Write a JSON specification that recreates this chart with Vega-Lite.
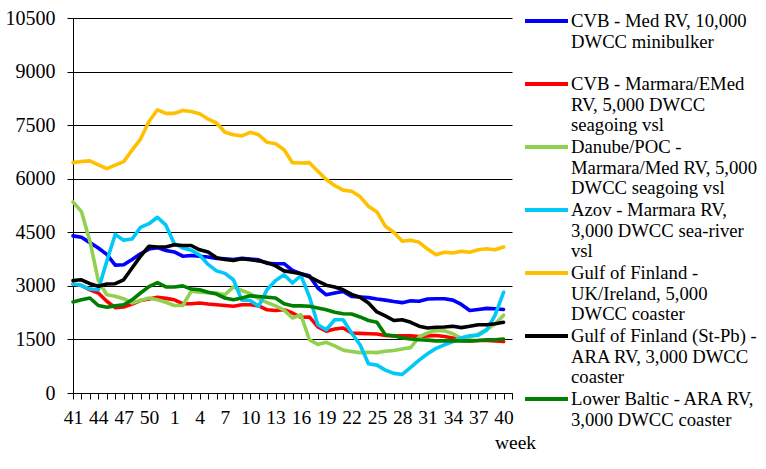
{
  "$schema": "https://vega.github.io/schema/vega-lite/v6.json",
  "autosize": {"type": "none"},
  "padding": {"left": 73, "top": 18, "right": 254, "bottom": 76},
  "width": 439,
  "height": 375,
  "background": "white",
  "config": {"view": {"stroke": null}, "font": "Liberation Serif"},
  "datasets": {
    "rates": [
      {"s":"CVB - Med RV, 10,000\nDWCC minibulker","w":41,"v":4400},{"s":"CVB - Med RV, 10,000\nDWCC minibulker","w":42,"v":4360},{"s":"CVB - Med RV, 10,000\nDWCC minibulker","w":43,"v":4210},{"s":"CVB - Med RV, 10,000\nDWCC minibulker","w":44,"v":4060},{"s":"CVB - Med RV, 10,000\nDWCC minibulker","w":45,"v":3880},{"s":"CVB - Med RV, 10,000\nDWCC minibulker","w":46,"v":3580},{"s":"CVB - Med RV, 10,000\nDWCC minibulker","w":47,"v":3590},{"s":"CVB - Med RV, 10,000\nDWCC minibulker","w":48,"v":3740},{"s":"CVB - Med RV, 10,000\nDWCC minibulker","w":49,"v":3900},{"s":"CVB - Med RV, 10,000\nDWCC minibulker","w":50,"v":4030},{"s":"CVB - Med RV, 10,000\nDWCC minibulker","w":51,"v":4070},{"s":"CVB - Med RV, 10,000\nDWCC minibulker","w":52,"v":3990},{"s":"CVB - Med RV, 10,000\nDWCC minibulker","w":1,"v":3950},{"s":"CVB - Med RV, 10,000\nDWCC minibulker","w":2,"v":3830},{"s":"CVB - Med RV, 10,000\nDWCC minibulker","w":3,"v":3850},{"s":"CVB - Med RV, 10,000\nDWCC minibulker","w":4,"v":3830},{"s":"CVB - Med RV, 10,000\nDWCC minibulker","w":5,"v":3810},{"s":"CVB - Med RV, 10,000\nDWCC minibulker","w":6,"v":3770},{"s":"CVB - Med RV, 10,000\nDWCC minibulker","w":7,"v":3760},{"s":"CVB - Med RV, 10,000\nDWCC minibulker","w":8,"v":3740},{"s":"CVB - Med RV, 10,000\nDWCC minibulker","w":9,"v":3770},{"s":"CVB - Med RV, 10,000\nDWCC minibulker","w":10,"v":3750},{"s":"CVB - Med RV, 10,000\nDWCC minibulker","w":11,"v":3730},{"s":"CVB - Med RV, 10,000\nDWCC minibulker","w":12,"v":3630},{"s":"CVB - Med RV, 10,000\nDWCC minibulker","w":13,"v":3620},{"s":"CVB - Med RV, 10,000\nDWCC minibulker","w":14,"v":3620},{"s":"CVB - Med RV, 10,000\nDWCC minibulker","w":15,"v":3430},{"s":"CVB - Med RV, 10,000\nDWCC minibulker","w":16,"v":3340},{"s":"CVB - Med RV, 10,000\nDWCC minibulker","w":17,"v":3280},{"s":"CVB - Med RV, 10,000\nDWCC minibulker","w":18,"v":2940},{"s":"CVB - Med RV, 10,000\nDWCC minibulker","w":19,"v":2750},{"s":"CVB - Med RV, 10,000\nDWCC minibulker","w":20,"v":2800},{"s":"CVB - Med RV, 10,000\nDWCC minibulker","w":21,"v":2840},{"s":"CVB - Med RV, 10,000\nDWCC minibulker","w":22,"v":2700},{"s":"CVB - Med RV, 10,000\nDWCC minibulker","w":23,"v":2690},{"s":"CVB - Med RV, 10,000\nDWCC minibulker","w":24,"v":2670},{"s":"CVB - Med RV, 10,000\nDWCC minibulker","w":25,"v":2630},{"s":"CVB - Med RV, 10,000\nDWCC minibulker","w":26,"v":2600},{"s":"CVB - Med RV, 10,000\nDWCC minibulker","w":27,"v":2560},{"s":"CVB - Med RV, 10,000\nDWCC minibulker","w":28,"v":2530},{"s":"CVB - Med RV, 10,000\nDWCC minibulker","w":29,"v":2580},{"s":"CVB - Med RV, 10,000\nDWCC minibulker","w":30,"v":2570},{"s":"CVB - Med RV, 10,000\nDWCC minibulker","w":31,"v":2630},{"s":"CVB - Med RV, 10,000\nDWCC minibulker","w":32,"v":2640},{"s":"CVB - Med RV, 10,000\nDWCC minibulker","w":33,"v":2640},{"s":"CVB - Med RV, 10,000\nDWCC minibulker","w":34,"v":2600},{"s":"CVB - Med RV, 10,000\nDWCC minibulker","w":35,"v":2480},{"s":"CVB - Med RV, 10,000\nDWCC minibulker","w":36,"v":2310},{"s":"CVB - Med RV, 10,000\nDWCC minibulker","w":37,"v":2340},{"s":"CVB - Med RV, 10,000\nDWCC minibulker","w":38,"v":2370},{"s":"CVB - Med RV, 10,000\nDWCC minibulker","w":39,"v":2360},{"s":"CVB - Med RV, 10,000\nDWCC minibulker","w":40,"v":2340},
      {"s":"CVB - Marmara/EMed\nRV, 5,000 DWCC\nseagoing vsl","w":41,"v":3050},{"s":"CVB - Marmara/EMed\nRV, 5,000 DWCC\nseagoing vsl","w":42,"v":3010},{"s":"CVB - Marmara/EMed\nRV, 5,000 DWCC\nseagoing vsl","w":43,"v":2890},{"s":"CVB - Marmara/EMed\nRV, 5,000 DWCC\nseagoing vsl","w":44,"v":2800},{"s":"CVB - Marmara/EMed\nRV, 5,000 DWCC\nseagoing vsl","w":45,"v":2570},{"s":"CVB - Marmara/EMed\nRV, 5,000 DWCC\nseagoing vsl","w":46,"v":2390},{"s":"CVB - Marmara/EMed\nRV, 5,000 DWCC\nseagoing vsl","w":47,"v":2410},{"s":"CVB - Marmara/EMed\nRV, 5,000 DWCC\nseagoing vsl","w":48,"v":2490},{"s":"CVB - Marmara/EMed\nRV, 5,000 DWCC\nseagoing vsl","w":49,"v":2590},{"s":"CVB - Marmara/EMed\nRV, 5,000 DWCC\nseagoing vsl","w":50,"v":2630},{"s":"CVB - Marmara/EMed\nRV, 5,000 DWCC\nseagoing vsl","w":51,"v":2680},{"s":"CVB - Marmara/EMed\nRV, 5,000 DWCC\nseagoing vsl","w":52,"v":2650},{"s":"CVB - Marmara/EMed\nRV, 5,000 DWCC\nseagoing vsl","w":1,"v":2610},{"s":"CVB - Marmara/EMed\nRV, 5,000 DWCC\nseagoing vsl","w":2,"v":2500},{"s":"CVB - Marmara/EMed\nRV, 5,000 DWCC\nseagoing vsl","w":3,"v":2500},{"s":"CVB - Marmara/EMed\nRV, 5,000 DWCC\nseagoing vsl","w":4,"v":2520},{"s":"CVB - Marmara/EMed\nRV, 5,000 DWCC\nseagoing vsl","w":5,"v":2490},{"s":"CVB - Marmara/EMed\nRV, 5,000 DWCC\nseagoing vsl","w":6,"v":2470},{"s":"CVB - Marmara/EMed\nRV, 5,000 DWCC\nseagoing vsl","w":7,"v":2450},{"s":"CVB - Marmara/EMed\nRV, 5,000 DWCC\nseagoing vsl","w":8,"v":2430},{"s":"CVB - Marmara/EMed\nRV, 5,000 DWCC\nseagoing vsl","w":9,"v":2470},{"s":"CVB - Marmara/EMed\nRV, 5,000 DWCC\nseagoing vsl","w":10,"v":2470},{"s":"CVB - Marmara/EMed\nRV, 5,000 DWCC\nseagoing vsl","w":11,"v":2440},{"s":"CVB - Marmara/EMed\nRV, 5,000 DWCC\nseagoing vsl","w":12,"v":2330},{"s":"CVB - Marmara/EMed\nRV, 5,000 DWCC\nseagoing vsl","w":13,"v":2310},{"s":"CVB - Marmara/EMed\nRV, 5,000 DWCC\nseagoing vsl","w":14,"v":2330},{"s":"CVB - Marmara/EMed\nRV, 5,000 DWCC\nseagoing vsl","w":15,"v":2240},{"s":"CVB - Marmara/EMed\nRV, 5,000 DWCC\nseagoing vsl","w":16,"v":2120},{"s":"CVB - Marmara/EMed\nRV, 5,000 DWCC\nseagoing vsl","w":17,"v":2130},{"s":"CVB - Marmara/EMed\nRV, 5,000 DWCC\nseagoing vsl","w":18,"v":1850},{"s":"CVB - Marmara/EMed\nRV, 5,000 DWCC\nseagoing vsl","w":19,"v":1730},{"s":"CVB - Marmara/EMed\nRV, 5,000 DWCC\nseagoing vsl","w":20,"v":1790},{"s":"CVB - Marmara/EMed\nRV, 5,000 DWCC\nseagoing vsl","w":21,"v":1820},{"s":"CVB - Marmara/EMed\nRV, 5,000 DWCC\nseagoing vsl","w":22,"v":1680},{"s":"CVB - Marmara/EMed\nRV, 5,000 DWCC\nseagoing vsl","w":23,"v":1670},{"s":"CVB - Marmara/EMed\nRV, 5,000 DWCC\nseagoing vsl","w":24,"v":1660},{"s":"CVB - Marmara/EMed\nRV, 5,000 DWCC\nseagoing vsl","w":25,"v":1650},{"s":"CVB - Marmara/EMed\nRV, 5,000 DWCC\nseagoing vsl","w":26,"v":1610},{"s":"CVB - Marmara/EMed\nRV, 5,000 DWCC\nseagoing vsl","w":27,"v":1600},{"s":"CVB - Marmara/EMed\nRV, 5,000 DWCC\nseagoing vsl","w":28,"v":1600},{"s":"CVB - Marmara/EMed\nRV, 5,000 DWCC\nseagoing vsl","w":29,"v":1600},{"s":"CVB - Marmara/EMed\nRV, 5,000 DWCC\nseagoing vsl","w":30,"v":1580},{"s":"CVB - Marmara/EMed\nRV, 5,000 DWCC\nseagoing vsl","w":31,"v":1600},{"s":"CVB - Marmara/EMed\nRV, 5,000 DWCC\nseagoing vsl","w":32,"v":1610},{"s":"CVB - Marmara/EMed\nRV, 5,000 DWCC\nseagoing vsl","w":33,"v":1580},{"s":"CVB - Marmara/EMed\nRV, 5,000 DWCC\nseagoing vsl","w":34,"v":1540},{"s":"CVB - Marmara/EMed\nRV, 5,000 DWCC\nseagoing vsl","w":35,"v":1470},{"s":"CVB - Marmara/EMed\nRV, 5,000 DWCC\nseagoing vsl","w":36,"v":1460},{"s":"CVB - Marmara/EMed\nRV, 5,000 DWCC\nseagoing vsl","w":37,"v":1470},{"s":"CVB - Marmara/EMed\nRV, 5,000 DWCC\nseagoing vsl","w":38,"v":1470},{"s":"CVB - Marmara/EMed\nRV, 5,000 DWCC\nseagoing vsl","w":39,"v":1460},{"s":"CVB - Marmara/EMed\nRV, 5,000 DWCC\nseagoing vsl","w":40,"v":1440},
      {"s":"Danube/POC -\nMarmara/Med RV, 5,000\nDWCC seagoing vsl","w":41,"v":5350},{"s":"Danube/POC -\nMarmara/Med RV, 5,000\nDWCC seagoing vsl","w":42,"v":5080},{"s":"Danube/POC -\nMarmara/Med RV, 5,000\nDWCC seagoing vsl","w":43,"v":4250},{"s":"Danube/POC -\nMarmara/Med RV, 5,000\nDWCC seagoing vsl","w":44,"v":3150},{"s":"Danube/POC -\nMarmara/Med RV, 5,000\nDWCC seagoing vsl","w":45,"v":2750},{"s":"Danube/POC -\nMarmara/Med RV, 5,000\nDWCC seagoing vsl","w":46,"v":2710},{"s":"Danube/POC -\nMarmara/Med RV, 5,000\nDWCC seagoing vsl","w":47,"v":2640},{"s":"Danube/POC -\nMarmara/Med RV, 5,000\nDWCC seagoing vsl","w":48,"v":2520},{"s":"Danube/POC -\nMarmara/Med RV, 5,000\nDWCC seagoing vsl","w":49,"v":2590},{"s":"Danube/POC -\nMarmara/Med RV, 5,000\nDWCC seagoing vsl","w":50,"v":2660},{"s":"Danube/POC -\nMarmara/Med RV, 5,000\nDWCC seagoing vsl","w":51,"v":2610},{"s":"Danube/POC -\nMarmara/Med RV, 5,000\nDWCC seagoing vsl","w":52,"v":2540},{"s":"Danube/POC -\nMarmara/Med RV, 5,000\nDWCC seagoing vsl","w":1,"v":2450},{"s":"Danube/POC -\nMarmara/Med RV, 5,000\nDWCC seagoing vsl","w":2,"v":2450},{"s":"Danube/POC -\nMarmara/Med RV, 5,000\nDWCC seagoing vsl","w":3,"v":2850},{"s":"Danube/POC -\nMarmara/Med RV, 5,000\nDWCC seagoing vsl","w":4,"v":2820},{"s":"Danube/POC -\nMarmara/Med RV, 5,000\nDWCC seagoing vsl","w":5,"v":2810},{"s":"Danube/POC -\nMarmara/Med RV, 5,000\nDWCC seagoing vsl","w":6,"v":2800},{"s":"Danube/POC -\nMarmara/Med RV, 5,000\nDWCC seagoing vsl","w":7,"v":2750},{"s":"Danube/POC -\nMarmara/Med RV, 5,000\nDWCC seagoing vsl","w":8,"v":2970},{"s":"Danube/POC -\nMarmara/Med RV, 5,000\nDWCC seagoing vsl","w":9,"v":2870},{"s":"Danube/POC -\nMarmara/Med RV, 5,000\nDWCC seagoing vsl","w":10,"v":2780},{"s":"Danube/POC -\nMarmara/Med RV, 5,000\nDWCC seagoing vsl","w":11,"v":2640},{"s":"Danube/POC -\nMarmara/Med RV, 5,000\nDWCC seagoing vsl","w":12,"v":2530},{"s":"Danube/POC -\nMarmara/Med RV, 5,000\nDWCC seagoing vsl","w":13,"v":2440},{"s":"Danube/POC -\nMarmara/Med RV, 5,000\nDWCC seagoing vsl","w":14,"v":2320},{"s":"Danube/POC -\nMarmara/Med RV, 5,000\nDWCC seagoing vsl","w":15,"v":2100},{"s":"Danube/POC -\nMarmara/Med RV, 5,000\nDWCC seagoing vsl","w":16,"v":2190},{"s":"Danube/POC -\nMarmara/Med RV, 5,000\nDWCC seagoing vsl","w":17,"v":1490},{"s":"Danube/POC -\nMarmara/Med RV, 5,000\nDWCC seagoing vsl","w":18,"v":1360},{"s":"Danube/POC -\nMarmara/Med RV, 5,000\nDWCC seagoing vsl","w":19,"v":1420},{"s":"Danube/POC -\nMarmara/Med RV, 5,000\nDWCC seagoing vsl","w":20,"v":1320},{"s":"Danube/POC -\nMarmara/Med RV, 5,000\nDWCC seagoing vsl","w":21,"v":1200},{"s":"Danube/POC -\nMarmara/Med RV, 5,000\nDWCC seagoing vsl","w":22,"v":1160},{"s":"Danube/POC -\nMarmara/Med RV, 5,000\nDWCC seagoing vsl","w":23,"v":1130},{"s":"Danube/POC -\nMarmara/Med RV, 5,000\nDWCC seagoing vsl","w":24,"v":1140},{"s":"Danube/POC -\nMarmara/Med RV, 5,000\nDWCC seagoing vsl","w":25,"v":1130},{"s":"Danube/POC -\nMarmara/Med RV, 5,000\nDWCC seagoing vsl","w":26,"v":1170},{"s":"Danube/POC -\nMarmara/Med RV, 5,000\nDWCC seagoing vsl","w":27,"v":1190},{"s":"Danube/POC -\nMarmara/Med RV, 5,000\nDWCC seagoing vsl","w":28,"v":1230},{"s":"Danube/POC -\nMarmara/Med RV, 5,000\nDWCC seagoing vsl","w":29,"v":1270},{"s":"Danube/POC -\nMarmara/Med RV, 5,000\nDWCC seagoing vsl","w":30,"v":1570},{"s":"Danube/POC -\nMarmara/Med RV, 5,000\nDWCC seagoing vsl","w":31,"v":1680},{"s":"Danube/POC -\nMarmara/Med RV, 5,000\nDWCC seagoing vsl","w":32,"v":1750},{"s":"Danube/POC -\nMarmara/Med RV, 5,000\nDWCC seagoing vsl","w":33,"v":1740},{"s":"Danube/POC -\nMarmara/Med RV, 5,000\nDWCC seagoing vsl","w":34,"v":1660},{"s":"Danube/POC -\nMarmara/Med RV, 5,000\nDWCC seagoing vsl","w":35,"v":1530},{"s":"Danube/POC -\nMarmara/Med RV, 5,000\nDWCC seagoing vsl","w":36,"v":1560},{"s":"Danube/POC -\nMarmara/Med RV, 5,000\nDWCC seagoing vsl","w":37,"v":1650},{"s":"Danube/POC -\nMarmara/Med RV, 5,000\nDWCC seagoing vsl","w":38,"v":1780},{"s":"Danube/POC -\nMarmara/Med RV, 5,000\nDWCC seagoing vsl","w":39,"v":1930},{"s":"Danube/POC -\nMarmara/Med RV, 5,000\nDWCC seagoing vsl","w":40,"v":2180},
      {"s":"Azov - Marmara RV,\n3,000 DWCC sea-river\nvsl","w":41,"v":3050},{"s":"Azov - Marmara RV,\n3,000 DWCC sea-river\nvsl","w":42,"v":3010},{"s":"Azov - Marmara RV,\n3,000 DWCC sea-river\nvsl","w":43,"v":2910},{"s":"Azov - Marmara RV,\n3,000 DWCC sea-river\nvsl","w":44,"v":2890},{"s":"Azov - Marmara RV,\n3,000 DWCC sea-river\nvsl","w":45,"v":3690},{"s":"Azov - Marmara RV,\n3,000 DWCC sea-river\nvsl","w":46,"v":4440},{"s":"Azov - Marmara RV,\n3,000 DWCC sea-river\nvsl","w":47,"v":4280},{"s":"Azov - Marmara RV,\n3,000 DWCC sea-river\nvsl","w":48,"v":4310},{"s":"Azov - Marmara RV,\n3,000 DWCC sea-river\nvsl","w":49,"v":4640},{"s":"Azov - Marmara RV,\n3,000 DWCC sea-river\nvsl","w":50,"v":4740},{"s":"Azov - Marmara RV,\n3,000 DWCC sea-river\nvsl","w":51,"v":4920},{"s":"Azov - Marmara RV,\n3,000 DWCC sea-river\nvsl","w":52,"v":4700},{"s":"Azov - Marmara RV,\n3,000 DWCC sea-river\nvsl","w":1,"v":4180},{"s":"Azov - Marmara RV,\n3,000 DWCC sea-river\nvsl","w":2,"v":4060},{"s":"Azov - Marmara RV,\n3,000 DWCC sea-river\nvsl","w":3,"v":4000},{"s":"Azov - Marmara RV,\n3,000 DWCC sea-river\nvsl","w":4,"v":3860},{"s":"Azov - Marmara RV,\n3,000 DWCC sea-river\nvsl","w":5,"v":3600},{"s":"Azov - Marmara RV,\n3,000 DWCC sea-river\nvsl","w":6,"v":3420},{"s":"Azov - Marmara RV,\n3,000 DWCC sea-river\nvsl","w":7,"v":3350},{"s":"Azov - Marmara RV,\n3,000 DWCC sea-river\nvsl","w":8,"v":3170},{"s":"Azov - Marmara RV,\n3,000 DWCC sea-river\nvsl","w":9,"v":2600},{"s":"Azov - Marmara RV,\n3,000 DWCC sea-river\nvsl","w":10,"v":2590},{"s":"Azov - Marmara RV,\n3,000 DWCC sea-river\nvsl","w":11,"v":2430},{"s":"Azov - Marmara RV,\n3,000 DWCC sea-river\nvsl","w":12,"v":2900},{"s":"Azov - Marmara RV,\n3,000 DWCC sea-river\nvsl","w":13,"v":3150},{"s":"Azov - Marmara RV,\n3,000 DWCC sea-river\nvsl","w":14,"v":3310},{"s":"Azov - Marmara RV,\n3,000 DWCC sea-river\nvsl","w":15,"v":3080},{"s":"Azov - Marmara RV,\n3,000 DWCC sea-river\nvsl","w":16,"v":3290},{"s":"Azov - Marmara RV,\n3,000 DWCC sea-river\nvsl","w":17,"v":2700},{"s":"Azov - Marmara RV,\n3,000 DWCC sea-river\nvsl","w":18,"v":1910},{"s":"Azov - Marmara RV,\n3,000 DWCC sea-river\nvsl","w":19,"v":1770},{"s":"Azov - Marmara RV,\n3,000 DWCC sea-river\nvsl","w":20,"v":2050},{"s":"Azov - Marmara RV,\n3,000 DWCC sea-river\nvsl","w":21,"v":2050},{"s":"Azov - Marmara RV,\n3,000 DWCC sea-river\nvsl","w":22,"v":1680},{"s":"Azov - Marmara RV,\n3,000 DWCC sea-river\nvsl","w":23,"v":1350},{"s":"Azov - Marmara RV,\n3,000 DWCC sea-river\nvsl","w":24,"v":820},{"s":"Azov - Marmara RV,\n3,000 DWCC sea-river\nvsl","w":25,"v":780},{"s":"Azov - Marmara RV,\n3,000 DWCC sea-river\nvsl","w":26,"v":640},{"s":"Azov - Marmara RV,\n3,000 DWCC sea-river\nvsl","w":27,"v":550},{"s":"Azov - Marmara RV,\n3,000 DWCC sea-river\nvsl","w":28,"v":520},{"s":"Azov - Marmara RV,\n3,000 DWCC sea-river\nvsl","w":29,"v":720},{"s":"Azov - Marmara RV,\n3,000 DWCC sea-river\nvsl","w":30,"v":920},{"s":"Azov - Marmara RV,\n3,000 DWCC sea-river\nvsl","w":31,"v":1100},{"s":"Azov - Marmara RV,\n3,000 DWCC sea-river\nvsl","w":32,"v":1250},{"s":"Azov - Marmara RV,\n3,000 DWCC sea-river\nvsl","w":33,"v":1350},{"s":"Azov - Marmara RV,\n3,000 DWCC sea-river\nvsl","w":34,"v":1440},{"s":"Azov - Marmara RV,\n3,000 DWCC sea-river\nvsl","w":35,"v":1550},{"s":"Azov - Marmara RV,\n3,000 DWCC sea-river\nvsl","w":36,"v":1600},{"s":"Azov - Marmara RV,\n3,000 DWCC sea-river\nvsl","w":37,"v":1620},{"s":"Azov - Marmara RV,\n3,000 DWCC sea-river\nvsl","w":38,"v":1760},{"s":"Azov - Marmara RV,\n3,000 DWCC sea-river\nvsl","w":39,"v":2180},{"s":"Azov - Marmara RV,\n3,000 DWCC sea-river\nvsl","w":40,"v":2820},
      {"s":"Gulf of Finland -\nUK/Ireland, 5,000\nDWCC coaster","w":41,"v":6450},{"s":"Gulf of Finland -\nUK/Ireland, 5,000\nDWCC coaster","w":42,"v":6480},{"s":"Gulf of Finland -\nUK/Ireland, 5,000\nDWCC coaster","w":43,"v":6500},{"s":"Gulf of Finland -\nUK/Ireland, 5,000\nDWCC coaster","w":44,"v":6390},{"s":"Gulf of Finland -\nUK/Ireland, 5,000\nDWCC coaster","w":45,"v":6280},{"s":"Gulf of Finland -\nUK/Ireland, 5,000\nDWCC coaster","w":46,"v":6380},{"s":"Gulf of Finland -\nUK/Ireland, 5,000\nDWCC coaster","w":47,"v":6480},{"s":"Gulf of Finland -\nUK/Ireland, 5,000\nDWCC coaster","w":48,"v":6800},{"s":"Gulf of Finland -\nUK/Ireland, 5,000\nDWCC coaster","w":49,"v":7110},{"s":"Gulf of Finland -\nUK/Ireland, 5,000\nDWCC coaster","w":50,"v":7600},{"s":"Gulf of Finland -\nUK/Ireland, 5,000\nDWCC coaster","w":51,"v":7930},{"s":"Gulf of Finland -\nUK/Ireland, 5,000\nDWCC coaster","w":52,"v":7830},{"s":"Gulf of Finland -\nUK/Ireland, 5,000\nDWCC coaster","w":1,"v":7830},{"s":"Gulf of Finland -\nUK/Ireland, 5,000\nDWCC coaster","w":2,"v":7910},{"s":"Gulf of Finland -\nUK/Ireland, 5,000\nDWCC coaster","w":3,"v":7880},{"s":"Gulf of Finland -\nUK/Ireland, 5,000\nDWCC coaster","w":4,"v":7820},{"s":"Gulf of Finland -\nUK/Ireland, 5,000\nDWCC coaster","w":5,"v":7670},{"s":"Gulf of Finland -\nUK/Ireland, 5,000\nDWCC coaster","w":6,"v":7560},{"s":"Gulf of Finland -\nUK/Ireland, 5,000\nDWCC coaster","w":7,"v":7300},{"s":"Gulf of Finland -\nUK/Ireland, 5,000\nDWCC coaster","w":8,"v":7230},{"s":"Gulf of Finland -\nUK/Ireland, 5,000\nDWCC coaster","w":9,"v":7200},{"s":"Gulf of Finland -\nUK/Ireland, 5,000\nDWCC coaster","w":10,"v":7300},{"s":"Gulf of Finland -\nUK/Ireland, 5,000\nDWCC coaster","w":11,"v":7230},{"s":"Gulf of Finland -\nUK/Ireland, 5,000\nDWCC coaster","w":12,"v":7020},{"s":"Gulf of Finland -\nUK/Ireland, 5,000\nDWCC coaster","w":13,"v":6980},{"s":"Gulf of Finland -\nUK/Ireland, 5,000\nDWCC coaster","w":14,"v":6810},{"s":"Gulf of Finland -\nUK/Ireland, 5,000\nDWCC coaster","w":15,"v":6450},{"s":"Gulf of Finland -\nUK/Ireland, 5,000\nDWCC coaster","w":16,"v":6440},{"s":"Gulf of Finland -\nUK/Ireland, 5,000\nDWCC coaster","w":17,"v":6450},{"s":"Gulf of Finland -\nUK/Ireland, 5,000\nDWCC coaster","w":18,"v":6210},{"s":"Gulf of Finland -\nUK/Ireland, 5,000\nDWCC coaster","w":19,"v":5980},{"s":"Gulf of Finland -\nUK/Ireland, 5,000\nDWCC coaster","w":20,"v":5810},{"s":"Gulf of Finland -\nUK/Ireland, 5,000\nDWCC coaster","w":21,"v":5680},{"s":"Gulf of Finland -\nUK/Ireland, 5,000\nDWCC coaster","w":22,"v":5650},{"s":"Gulf of Finland -\nUK/Ireland, 5,000\nDWCC coaster","w":23,"v":5500},{"s":"Gulf of Finland -\nUK/Ireland, 5,000\nDWCC coaster","w":24,"v":5230},{"s":"Gulf of Finland -\nUK/Ireland, 5,000\nDWCC coaster","w":25,"v":5070},{"s":"Gulf of Finland -\nUK/Ireland, 5,000\nDWCC coaster","w":26,"v":4670},{"s":"Gulf of Finland -\nUK/Ireland, 5,000\nDWCC coaster","w":27,"v":4500},{"s":"Gulf of Finland -\nUK/Ireland, 5,000\nDWCC coaster","w":28,"v":4250},{"s":"Gulf of Finland -\nUK/Ireland, 5,000\nDWCC coaster","w":29,"v":4280},{"s":"Gulf of Finland -\nUK/Ireland, 5,000\nDWCC coaster","w":30,"v":4220},{"s":"Gulf of Finland -\nUK/Ireland, 5,000\nDWCC coaster","w":31,"v":4030},{"s":"Gulf of Finland -\nUK/Ireland, 5,000\nDWCC coaster","w":32,"v":3870},{"s":"Gulf of Finland -\nUK/Ireland, 5,000\nDWCC coaster","w":33,"v":3940},{"s":"Gulf of Finland -\nUK/Ireland, 5,000\nDWCC coaster","w":34,"v":3920},{"s":"Gulf of Finland -\nUK/Ireland, 5,000\nDWCC coaster","w":35,"v":3970},{"s":"Gulf of Finland -\nUK/Ireland, 5,000\nDWCC coaster","w":36,"v":3940},{"s":"Gulf of Finland -\nUK/Ireland, 5,000\nDWCC coaster","w":37,"v":4010},{"s":"Gulf of Finland -\nUK/Ireland, 5,000\nDWCC coaster","w":38,"v":4040},{"s":"Gulf of Finland -\nUK/Ireland, 5,000\nDWCC coaster","w":39,"v":4010},{"s":"Gulf of Finland -\nUK/Ireland, 5,000\nDWCC coaster","w":40,"v":4090},
      {"s":"Gulf of Finland (St-Pb) -\nARA RV, 3,000 DWCC\ncoaster","w":41,"v":3150},{"s":"Gulf of Finland (St-Pb) -\nARA RV, 3,000 DWCC\ncoaster","w":42,"v":3170},{"s":"Gulf of Finland (St-Pb) -\nARA RV, 3,000 DWCC\ncoaster","w":43,"v":3060},{"s":"Gulf of Finland (St-Pb) -\nARA RV, 3,000 DWCC\ncoaster","w":44,"v":2990},{"s":"Gulf of Finland (St-Pb) -\nARA RV, 3,000 DWCC\ncoaster","w":45,"v":3050},{"s":"Gulf of Finland (St-Pb) -\nARA RV, 3,000 DWCC\ncoaster","w":46,"v":3060},{"s":"Gulf of Finland (St-Pb) -\nARA RV, 3,000 DWCC\ncoaster","w":47,"v":3170},{"s":"Gulf of Finland (St-Pb) -\nARA RV, 3,000 DWCC\ncoaster","w":48,"v":3500},{"s":"Gulf of Finland (St-Pb) -\nARA RV, 3,000 DWCC\ncoaster","w":49,"v":3830},{"s":"Gulf of Finland (St-Pb) -\nARA RV, 3,000 DWCC\ncoaster","w":50,"v":4110},{"s":"Gulf of Finland (St-Pb) -\nARA RV, 3,000 DWCC\ncoaster","w":51,"v":4090},{"s":"Gulf of Finland (St-Pb) -\nARA RV, 3,000 DWCC\ncoaster","w":52,"v":4090},{"s":"Gulf of Finland (St-Pb) -\nARA RV, 3,000 DWCC\ncoaster","w":1,"v":4150},{"s":"Gulf of Finland (St-Pb) -\nARA RV, 3,000 DWCC\ncoaster","w":2,"v":4130},{"s":"Gulf of Finland (St-Pb) -\nARA RV, 3,000 DWCC\ncoaster","w":3,"v":4130},{"s":"Gulf of Finland (St-Pb) -\nARA RV, 3,000 DWCC\ncoaster","w":4,"v":4010},{"s":"Gulf of Finland (St-Pb) -\nARA RV, 3,000 DWCC\ncoaster","w":5,"v":3950},{"s":"Gulf of Finland (St-Pb) -\nARA RV, 3,000 DWCC\ncoaster","w":6,"v":3790},{"s":"Gulf of Finland (St-Pb) -\nARA RV, 3,000 DWCC\ncoaster","w":7,"v":3740},{"s":"Gulf of Finland (St-Pb) -\nARA RV, 3,000 DWCC\ncoaster","w":8,"v":3710},{"s":"Gulf of Finland (St-Pb) -\nARA RV, 3,000 DWCC\ncoaster","w":9,"v":3760},{"s":"Gulf of Finland (St-Pb) -\nARA RV, 3,000 DWCC\ncoaster","w":10,"v":3730},{"s":"Gulf of Finland (St-Pb) -\nARA RV, 3,000 DWCC\ncoaster","w":11,"v":3700},{"s":"Gulf of Finland (St-Pb) -\nARA RV, 3,000 DWCC\ncoaster","w":12,"v":3650},{"s":"Gulf of Finland (St-Pb) -\nARA RV, 3,000 DWCC\ncoaster","w":13,"v":3560},{"s":"Gulf of Finland (St-Pb) -\nARA RV, 3,000 DWCC\ncoaster","w":14,"v":3420},{"s":"Gulf of Finland (St-Pb) -\nARA RV, 3,000 DWCC\ncoaster","w":15,"v":3380},{"s":"Gulf of Finland (St-Pb) -\nARA RV, 3,000 DWCC\ncoaster","w":16,"v":3340},{"s":"Gulf of Finland (St-Pb) -\nARA RV, 3,000 DWCC\ncoaster","w":17,"v":3250},{"s":"Gulf of Finland (St-Pb) -\nARA RV, 3,000 DWCC\ncoaster","w":18,"v":3130},{"s":"Gulf of Finland (St-Pb) -\nARA RV, 3,000 DWCC\ncoaster","w":19,"v":3020},{"s":"Gulf of Finland (St-Pb) -\nARA RV, 3,000 DWCC\ncoaster","w":20,"v":2970},{"s":"Gulf of Finland (St-Pb) -\nARA RV, 3,000 DWCC\ncoaster","w":21,"v":2890},{"s":"Gulf of Finland (St-Pb) -\nARA RV, 3,000 DWCC\ncoaster","w":22,"v":2760},{"s":"Gulf of Finland (St-Pb) -\nARA RV, 3,000 DWCC\ncoaster","w":23,"v":2680},{"s":"Gulf of Finland (St-Pb) -\nARA RV, 3,000 DWCC\ncoaster","w":24,"v":2520},{"s":"Gulf of Finland (St-Pb) -\nARA RV, 3,000 DWCC\ncoaster","w":25,"v":2270},{"s":"Gulf of Finland (St-Pb) -\nARA RV, 3,000 DWCC\ncoaster","w":26,"v":2160},{"s":"Gulf of Finland (St-Pb) -\nARA RV, 3,000 DWCC\ncoaster","w":27,"v":2030},{"s":"Gulf of Finland (St-Pb) -\nARA RV, 3,000 DWCC\ncoaster","w":28,"v":2050},{"s":"Gulf of Finland (St-Pb) -\nARA RV, 3,000 DWCC\ncoaster","w":29,"v":1980},{"s":"Gulf of Finland (St-Pb) -\nARA RV, 3,000 DWCC\ncoaster","w":30,"v":1870},{"s":"Gulf of Finland (St-Pb) -\nARA RV, 3,000 DWCC\ncoaster","w":31,"v":1820},{"s":"Gulf of Finland (St-Pb) -\nARA RV, 3,000 DWCC\ncoaster","w":32,"v":1840},{"s":"Gulf of Finland (St-Pb) -\nARA RV, 3,000 DWCC\ncoaster","w":33,"v":1850},{"s":"Gulf of Finland (St-Pb) -\nARA RV, 3,000 DWCC\ncoaster","w":34,"v":1870},{"s":"Gulf of Finland (St-Pb) -\nARA RV, 3,000 DWCC\ncoaster","w":35,"v":1830},{"s":"Gulf of Finland (St-Pb) -\nARA RV, 3,000 DWCC\ncoaster","w":36,"v":1870},{"s":"Gulf of Finland (St-Pb) -\nARA RV, 3,000 DWCC\ncoaster","w":37,"v":1910},{"s":"Gulf of Finland (St-Pb) -\nARA RV, 3,000 DWCC\ncoaster","w":38,"v":1910},{"s":"Gulf of Finland (St-Pb) -\nARA RV, 3,000 DWCC\ncoaster","w":39,"v":1940},{"s":"Gulf of Finland (St-Pb) -\nARA RV, 3,000 DWCC\ncoaster","w":40,"v":1980},
      {"s":"Lower Baltic - ARA RV,\n3,000 DWCC coaster","w":41,"v":2550},{"s":"Lower Baltic - ARA RV,\n3,000 DWCC coaster","w":42,"v":2610},{"s":"Lower Baltic - ARA RV,\n3,000 DWCC coaster","w":43,"v":2660},{"s":"Lower Baltic - ARA RV,\n3,000 DWCC coaster","w":44,"v":2450},{"s":"Lower Baltic - ARA RV,\n3,000 DWCC coaster","w":45,"v":2400},{"s":"Lower Baltic - ARA RV,\n3,000 DWCC coaster","w":46,"v":2440},{"s":"Lower Baltic - ARA RV,\n3,000 DWCC coaster","w":47,"v":2470},{"s":"Lower Baltic - ARA RV,\n3,000 DWCC coaster","w":48,"v":2610},{"s":"Lower Baltic - ARA RV,\n3,000 DWCC coaster","w":49,"v":2800},{"s":"Lower Baltic - ARA RV,\n3,000 DWCC coaster","w":50,"v":2980},{"s":"Lower Baltic - ARA RV,\n3,000 DWCC coaster","w":51,"v":3090},{"s":"Lower Baltic - ARA RV,\n3,000 DWCC coaster","w":52,"v":2970},{"s":"Lower Baltic - ARA RV,\n3,000 DWCC coaster","w":1,"v":2970},{"s":"Lower Baltic - ARA RV,\n3,000 DWCC coaster","w":2,"v":3000},{"s":"Lower Baltic - ARA RV,\n3,000 DWCC coaster","w":3,"v":2910},{"s":"Lower Baltic - ARA RV,\n3,000 DWCC coaster","w":4,"v":2890},{"s":"Lower Baltic - ARA RV,\n3,000 DWCC coaster","w":5,"v":2820},{"s":"Lower Baltic - ARA RV,\n3,000 DWCC coaster","w":6,"v":2770},{"s":"Lower Baltic - ARA RV,\n3,000 DWCC coaster","w":7,"v":2660},{"s":"Lower Baltic - ARA RV,\n3,000 DWCC coaster","w":8,"v":2610},{"s":"Lower Baltic - ARA RV,\n3,000 DWCC coaster","w":9,"v":2660},{"s":"Lower Baltic - ARA RV,\n3,000 DWCC coaster","w":10,"v":2720},{"s":"Lower Baltic - ARA RV,\n3,000 DWCC coaster","w":11,"v":2700},{"s":"Lower Baltic - ARA RV,\n3,000 DWCC coaster","w":12,"v":2680},{"s":"Lower Baltic - ARA RV,\n3,000 DWCC coaster","w":13,"v":2660},{"s":"Lower Baltic - ARA RV,\n3,000 DWCC coaster","w":14,"v":2500},{"s":"Lower Baltic - ARA RV,\n3,000 DWCC coaster","w":15,"v":2440},{"s":"Lower Baltic - ARA RV,\n3,000 DWCC coaster","w":16,"v":2440},{"s":"Lower Baltic - ARA RV,\n3,000 DWCC coaster","w":17,"v":2430},{"s":"Lower Baltic - ARA RV,\n3,000 DWCC coaster","w":18,"v":2380},{"s":"Lower Baltic - ARA RV,\n3,000 DWCC coaster","w":19,"v":2330},{"s":"Lower Baltic - ARA RV,\n3,000 DWCC coaster","w":20,"v":2260},{"s":"Lower Baltic - ARA RV,\n3,000 DWCC coaster","w":21,"v":2220},{"s":"Lower Baltic - ARA RV,\n3,000 DWCC coaster","w":22,"v":2210},{"s":"Lower Baltic - ARA RV,\n3,000 DWCC coaster","w":23,"v":2130},{"s":"Lower Baltic - ARA RV,\n3,000 DWCC coaster","w":24,"v":2030},{"s":"Lower Baltic - ARA RV,\n3,000 DWCC coaster","w":25,"v":1980},{"s":"Lower Baltic - ARA RV,\n3,000 DWCC coaster","w":26,"v":1630},{"s":"Lower Baltic - ARA RV,\n3,000 DWCC coaster","w":27,"v":1600},{"s":"Lower Baltic - ARA RV,\n3,000 DWCC coaster","w":28,"v":1540},{"s":"Lower Baltic - ARA RV,\n3,000 DWCC coaster","w":29,"v":1510},{"s":"Lower Baltic - ARA RV,\n3,000 DWCC coaster","w":30,"v":1490},{"s":"Lower Baltic - ARA RV,\n3,000 DWCC coaster","w":31,"v":1480},{"s":"Lower Baltic - ARA RV,\n3,000 DWCC coaster","w":32,"v":1460},{"s":"Lower Baltic - ARA RV,\n3,000 DWCC coaster","w":33,"v":1460},{"s":"Lower Baltic - ARA RV,\n3,000 DWCC coaster","w":34,"v":1460},{"s":"Lower Baltic - ARA RV,\n3,000 DWCC coaster","w":35,"v":1460},{"s":"Lower Baltic - ARA RV,\n3,000 DWCC coaster","w":36,"v":1460},{"s":"Lower Baltic - ARA RV,\n3,000 DWCC coaster","w":37,"v":1470},{"s":"Lower Baltic - ARA RV,\n3,000 DWCC coaster","w":38,"v":1490},{"s":"Lower Baltic - ARA RV,\n3,000 DWCC coaster","w":39,"v":1490},{"s":"Lower Baltic - ARA RV,\n3,000 DWCC coaster","w":40,"v":1510}
    ]
  },
  "data": {"name": "rates"},
  "mark": {"type": "line", "strokeWidth": 3.6, "strokeJoin": "round", "strokeCap": "round"},
  "encoding": {
    "x": {
      "field": "w",
      "type": "ordinal",
      "sort": null,
      "scale": {"type": "point", "padding": 0, "domain": [41,42,43,44,45,46,47,48,49,50,51,52,1,2,3,4,5,6,7,8,9,10,11,12,13,14,15,16,17,18,19,20,21,22,23,24,25,26,27,28,29,30,31,32,33,34,35,36,37,38,39,40,53]},
      "axis": {
        "title": "week",
        "titleFont": "Liberation Serif",
        "titleFontSize": 19.5,
        "titleFontWeight": "normal",
        "titleColor": "black",
        "titleX": 442,
        "titleY": 55,
        "titleAlign": "center",
        "titleBaseline": "alphabetic",
        "labelExpr": "indexof([41,44,47,50,1,4,7,10,13,16,19,22,25,28,31,34,37,40], datum.value) >= 0 ? datum.label : ''",
        "labelAngle": 0,
        "labelFont": "Liberation Serif",
        "labelFontSize": 19.5,
        "labelColor": "black",
        "labelPadding": 9,
        "labelOverlap": false,
        "labelBound": false,
        "labelFlush": false,
        "tickColor": "black",
        "tickSize": 6,
        "domainColor": "black",
        "grid": false
      }
    },
    "y": {
      "field": "v",
      "type": "quantitative",
      "scale": {"domain": [0, 10500], "nice": false, "zero": true},
      "axis": {
        "title": null,
        "values": [0,1500,3000,4500,6000,7500,9000,10500],
        "format": "d",
        "labelFont": "Liberation Serif",
        "labelFontSize": 20,
        "labelColor": "black",
        "labelPadding": 12,
        "tickColor": "black",
        "tickSize": 6,
        "domainColor": "black",
        "grid": true,
        "gridColor": "black",
        "gridOpacity": 1,
        "gridWidth": 1
      }
    },
    "color": {
      "field": "s",
      "type": "nominal",
      "scale": {
        "domain": ["CVB - Med RV, 10,000\nDWCC minibulker","CVB - Marmara/EMed\nRV, 5,000 DWCC\nseagoing vsl","Danube/POC -\nMarmara/Med RV, 5,000\nDWCC seagoing vsl","Azov - Marmara RV,\n3,000 DWCC sea-river\nvsl","Gulf of Finland -\nUK/Ireland, 5,000\nDWCC coaster","Gulf of Finland (St-Pb) -\nARA RV, 3,000 DWCC\ncoaster","Lower Baltic - ARA RV,\n3,000 DWCC coaster"],
        "range": ["#0000FF","#FF0000","#92D050","#00C8F8","#FFC000","#000000","#008000"]
      },
      "legend": {
        "title": null,
        "orient": "none",
        "legendX": 464,
        "legendY": -6.5,
        "padding": 0,
        "symbolType": "M-3,0L3,0",
        "symbolSize": 205,
        "symbolStrokeWidth": 4,
        "labelFont": "Liberation Serif",
        "labelFontSize": 18.7,
        "labelColor": "black",
        "labelLineHeight": 21,
        "labelBaseline": "middle",
        "labelLimit": 300,
        "labelOffset": 15,
        "rowPadding": 2,
        "labelExpr": "split(datum.label + (length(split(datum.label, '\\n')) < 3 ? '\\n ' : ''), '\\n')"
      }
    }
  }
}
